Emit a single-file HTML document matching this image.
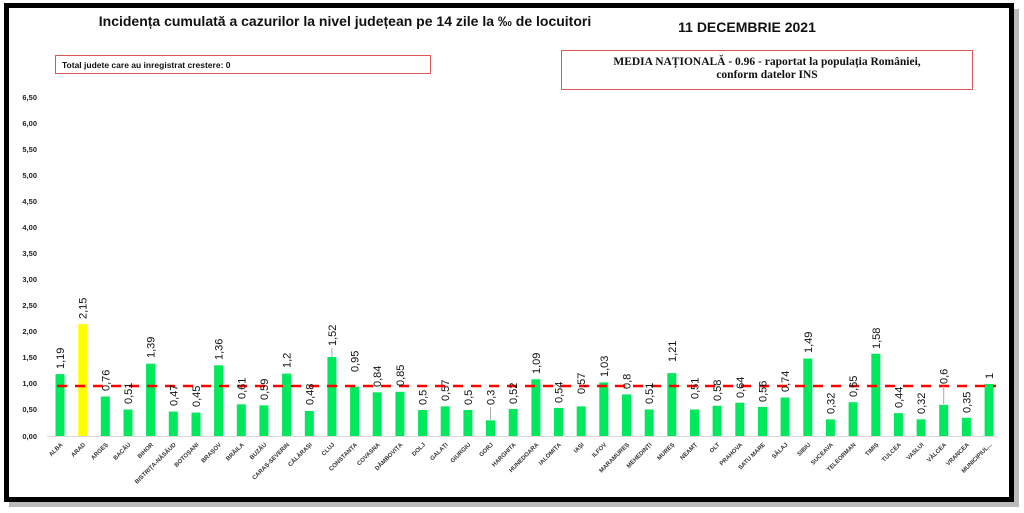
<!DOCTYPE html>
<html><head><meta charset="utf-8"><style>
html,body{margin:0;padding:0;background:#fff;}
svg{display:block;}
</style></head><body>
<svg width="1024" height="513" viewBox="0 0 1024 513" xmlns="http://www.w3.org/2000/svg" font-family="Liberation Sans, sans-serif">
<rect x="0" y="0" width="1024" height="513" fill="#fff"/>
<rect x="9" y="9" width="1010" height="498" fill="#777" opacity="0.5"/>
<rect x="6.5" y="5.5" width="1005" height="494" fill="#fff" stroke="#000" stroke-width="5"/>
<text x="345" y="26" text-anchor="middle" font-size="14" font-weight="bold" fill="#111">Incidența cumulată a cazurilor la nivel județean pe 14 zile la ‰ de locuitori</text>
<text x="747" y="32" text-anchor="middle" font-size="14" font-weight="bold" fill="#111">11 DECEMBRIE 2021</text>
<rect x="55.5" y="55.5" width="375" height="18" fill="#fff" stroke="#e05555" stroke-width="1"/>
<text x="62" y="68" font-size="8.5" font-weight="bold" fill="#111">Total judete care au inregistrat crestere: 0</text>
<rect x="561.5" y="50.5" width="411" height="39" fill="#fff" stroke="#e05555" stroke-width="1"/>
<text x="767" y="65" text-anchor="middle" font-family="Liberation Serif, serif" font-size="11.5" font-weight="bold" fill="#111">MEDIA NAȚIONALĂ  - 0.96 -  raportat la populația României,</text>
<text x="767" y="78" text-anchor="middle" font-family="Liberation Serif, serif" font-size="11.5" font-weight="bold" fill="#111">conform datelor INS</text>
<g font-size="7.5" font-weight="bold" fill="#222" text-anchor="end">
<text x="37" y="100">6,50</text><text x="37" y="126">6,00</text><text x="37" y="152">5,50</text><text x="37" y="178">5,00</text><text x="37" y="204">4,50</text><text x="37" y="230">4,00</text><text x="37" y="256">3,50</text><text x="37" y="282">3,00</text><text x="37" y="308">2,50</text><text x="37" y="334">2,00</text><text x="37" y="360">1,50</text><text x="37" y="386">1,00</text><text x="37" y="412">0,50</text><text x="37" y="439">0,00</text>
</g>
<line x1="47" y1="436.5" x2="998" y2="436.5" stroke="#d9d9d9" stroke-width="1"/>
<g fill="#00e85c">
<rect x="55.5" y="374.1" width="9" height="61.9"/>
<rect x="78.2" y="324.2" width="9" height="111.8" fill="#ffff00"/>
<rect x="100.8" y="396.5" width="9" height="39.5"/>
<rect x="123.5" y="409.5" width="9" height="26.5"/>
<rect x="146.1" y="363.7" width="9" height="72.3"/>
<rect x="168.8" y="411.6" width="9" height="24.4"/>
<rect x="191.5" y="412.6" width="9" height="23.4"/>
<rect x="214.1" y="365.3" width="9" height="70.7"/>
<rect x="236.8" y="404.3" width="9" height="31.7"/>
<rect x="259.4" y="405.3" width="9" height="30.7"/>
<rect x="282.1" y="373.6" width="9" height="62.4"/>
<rect x="304.8" y="411.0" width="9" height="25"/>
<rect x="327.4" y="357.0" width="9" height="79"/>
<rect x="350.1" y="386.6" width="9" height="49.4"/>
<rect x="372.7" y="392.3" width="9" height="43.7"/>
<rect x="395.4" y="391.8" width="9" height="44.2"/>
<rect x="418.1" y="410" width="9" height="26"/>
<rect x="440.7" y="406.4" width="9" height="29.6"/>
<rect x="463.4" y="410" width="9" height="26"/>
<rect x="486.0" y="420.4" width="9" height="15.6"/>
<rect x="508.7" y="409.0" width="9" height="27"/>
<rect x="531.4" y="379.3" width="9" height="56.7"/>
<rect x="554.0" y="407.9" width="9" height="28.1"/>
<rect x="576.7" y="406.4" width="9" height="29.6"/>
<rect x="599.3" y="382.4" width="9" height="53.6"/>
<rect x="622.0" y="394.4" width="9" height="41.6"/>
<rect x="644.7" y="409.5" width="9" height="26.5"/>
<rect x="667.3" y="373.1" width="9" height="62.9"/>
<rect x="690.0" y="409.5" width="9" height="26.5"/>
<rect x="712.6" y="405.8" width="9" height="30.2"/>
<rect x="735.3" y="402.7" width="9" height="33.3"/>
<rect x="758.0" y="406.9" width="9" height="29.1"/>
<rect x="780.6" y="397.5" width="9" height="38.5"/>
<rect x="803.3" y="358.5" width="9" height="77.5"/>
<rect x="825.9" y="419.4" width="9" height="16.6"/>
<rect x="848.6" y="402.2" width="9" height="33.8"/>
<rect x="871.3" y="353.8" width="9" height="82.2"/>
<rect x="893.9" y="413.1" width="9" height="22.9"/>
<rect x="916.6" y="419.4" width="9" height="16.6"/>
<rect x="939.2" y="404.8" width="9" height="31.2"/>
<rect x="961.9" y="417.8" width="9" height="18.2"/>
<rect x="984.6" y="384" width="9" height="52"/>
</g>
<line x1="57" y1="386" x2="996" y2="386" stroke="#ff0000" stroke-width="2.5" stroke-dasharray="10,8"/>
<g font-size="11" fill="#111">
<text transform="translate(64,369) rotate(-90)">1,19</text>
<text transform="translate(86.7,319) rotate(-90)">2,15</text>
<text transform="translate(109.3,391) rotate(-90)">0,76</text>
<text transform="translate(132,404) rotate(-90)">0,51</text>
<text transform="translate(154.6,358) rotate(-90)">1,39</text>
<text transform="translate(177.3,406) rotate(-90)">0,47</text>
<text transform="translate(200,407) rotate(-90)">0,45</text>
<text transform="translate(222.6,360) rotate(-90)">1,36</text>
<text transform="translate(245.3,399) rotate(-90)">0,61</text>
<text transform="translate(267.9,400) rotate(-90)">0,59</text>
<text transform="translate(290.6,368) rotate(-90)">1,2</text>
<text transform="translate(313.3,405) rotate(-90)">0,48</text>
<text transform="translate(335.9,346) rotate(-90)">1,52</text>
<text transform="translate(358.6,372) rotate(-90)">0,95</text>
<text transform="translate(381.2,387) rotate(-90)">0,84</text>
<text transform="translate(403.9,386) rotate(-90)">0,85</text>
<text transform="translate(426.6,405) rotate(-90)">0,5</text>
<text transform="translate(449.2,401) rotate(-90)">0,57</text>
<text transform="translate(471.9,405) rotate(-90)">0,5</text>
<text transform="translate(494.5,405) rotate(-90)">0,3</text>
<text transform="translate(517.2,404) rotate(-90)">0,52</text>
<text transform="translate(539.9,374) rotate(-90)">1,09</text>
<text transform="translate(562.5,403) rotate(-90)">0,54</text>
<text transform="translate(585.2,394) rotate(-90)">0,57</text>
<text transform="translate(607.8,377) rotate(-90)">1,03</text>
<text transform="translate(630.5,389) rotate(-90)">0,8</text>
<text transform="translate(653.2,404) rotate(-90)">0,51</text>
<text transform="translate(675.8,362) rotate(-90)">1,21</text>
<text transform="translate(698.5,399) rotate(-90)">0,51</text>
<text transform="translate(721.1,401) rotate(-90)">0,58</text>
<text transform="translate(743.8,398) rotate(-90)">0,64</text>
<text transform="translate(766.5,402) rotate(-90)">0,56</text>
<text transform="translate(789.1,392) rotate(-90)">0,74</text>
<text transform="translate(811.8,353) rotate(-90)">1,49</text>
<text transform="translate(834.4,414) rotate(-90)">0,32</text>
<text transform="translate(857.1,397) rotate(-90)">0,65</text>
<text transform="translate(879.8,349) rotate(-90)">1,58</text>
<text transform="translate(902.4,408) rotate(-90)">0,44</text>
<text transform="translate(925.1,414) rotate(-90)">0,32</text>
<text transform="translate(947.7,384) rotate(-90)">0,6</text>
<text transform="translate(970.4,413) rotate(-90)">0,35</text>
<text transform="translate(993.1,379) rotate(-90)">1</text>
</g>
<g stroke="#aaa" stroke-width="1">
<line x1="490.5" y1="420" x2="490.5" y2="407"/>
<line x1="943.7" y1="404" x2="943.7" y2="386"/>
<line x1="331.9" y1="357" x2="331.9" y2="348"/>
</g>
<g font-size="6" font-weight="bold" fill="#333" text-anchor="end">
<text transform="translate(63,445) rotate(-45)">ALBA</text>
<text transform="translate(85.7,445) rotate(-45)">ARAD</text>
<text transform="translate(108.3,445) rotate(-45)">ARGEȘ</text>
<text transform="translate(131,445) rotate(-45)">BACĂU</text>
<text transform="translate(153.6,445) rotate(-45)">BIHOR</text>
<text transform="translate(176.3,445) rotate(-45)">BISTRIȚA-NĂSĂUD</text>
<text transform="translate(199,445) rotate(-45)">BOTOȘANI</text>
<text transform="translate(221.6,445) rotate(-45)">BRAȘOV</text>
<text transform="translate(244.3,445) rotate(-45)">BRĂILA</text>
<text transform="translate(266.9,445) rotate(-45)">BUZĂU</text>
<text transform="translate(289.6,445) rotate(-45)">CARAȘ-SEVERIN</text>
<text transform="translate(312.3,445) rotate(-45)">CĂLĂRAȘI</text>
<text transform="translate(334.9,445) rotate(-45)">CLUJ</text>
<text transform="translate(357.6,445) rotate(-45)">CONSTANȚA</text>
<text transform="translate(380.2,445) rotate(-45)">COVASNA</text>
<text transform="translate(402.9,445) rotate(-45)">DÂMBOVIȚA</text>
<text transform="translate(425.6,445) rotate(-45)">DOLJ</text>
<text transform="translate(448.2,445) rotate(-45)">GALAȚI</text>
<text transform="translate(470.9,445) rotate(-45)">GIURGIU</text>
<text transform="translate(493.5,445) rotate(-45)">GORJ</text>
<text transform="translate(516.2,445) rotate(-45)">HARGHITA</text>
<text transform="translate(538.9,445) rotate(-45)">HUNEDOARA</text>
<text transform="translate(561.5,445) rotate(-45)">IALOMIȚA</text>
<text transform="translate(584.2,445) rotate(-45)">IAȘI</text>
<text transform="translate(606.8,445) rotate(-45)">ILFOV</text>
<text transform="translate(629.5,445) rotate(-45)">MARAMUREȘ</text>
<text transform="translate(652.2,445) rotate(-45)">MEHEDINȚI</text>
<text transform="translate(674.8,445) rotate(-45)">MUREȘ</text>
<text transform="translate(697.5,445) rotate(-45)">NEAMȚ</text>
<text transform="translate(720.1,445) rotate(-45)">OLT</text>
<text transform="translate(742.8,445) rotate(-45)">PRAHOVA</text>
<text transform="translate(765.5,445) rotate(-45)">SATU MARE</text>
<text transform="translate(788.1,445) rotate(-45)">SĂLAJ</text>
<text transform="translate(810.8,445) rotate(-45)">SIBIU</text>
<text transform="translate(833.4,445) rotate(-45)">SUCEAVA</text>
<text transform="translate(856.1,445) rotate(-45)">TELEORMAN</text>
<text transform="translate(878.8,445) rotate(-45)">TIMIȘ</text>
<text transform="translate(901.4,445) rotate(-45)">TULCEA</text>
<text transform="translate(924.1,445) rotate(-45)">VASLUI</text>
<text transform="translate(946.7,445) rotate(-45)">VÂLCEA</text>
<text transform="translate(969.4,445) rotate(-45)">VRANCEA</text>
<text transform="translate(992.1,445) rotate(-45)">MUNICIPIUL...</text>
</g>
</svg>
</body></html>
